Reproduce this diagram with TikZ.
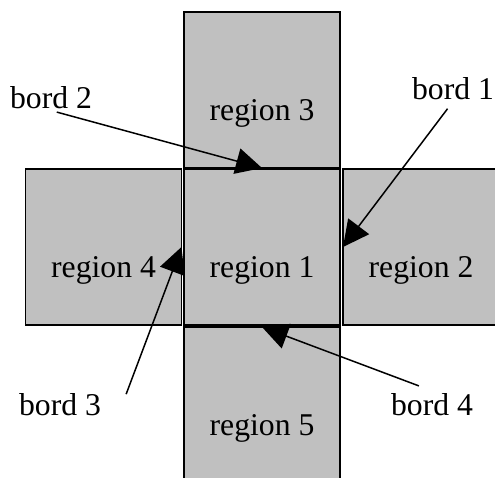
\documentclass[tikz,border=0pt]{standalone}
\usepackage{fontspec}
\setmainfont{Liberation Serif}
\usetikzlibrary{positioning,arrows.meta}
\definecolor{regiongray}{RGB}{192,192,192}
\tikzset{
  region/.style={draw, fill=regiongray, line width=1.2pt, minimum width=156pt, minimum height=156pt, inner sep=0pt, outer sep=0pt},
  rtext/.style={anchor=base, inner sep=0pt, font=\fontsize{31.7pt}{38pt}\selectfont},
  bordlabel/.style={anchor=base, inner sep=2pt, font=\fontsize{31.7pt}{38pt}\selectfont},
  pointer/.style={-{Triangle[length=26pt,width=26pt]}, line width=1.5pt},
}

\begin{document}
\begin{tikzpicture}[x=1pt,y=-1pt]
\useasboundingbox (0,0) rectangle (495,477);
\node[region] (r1) at (262,247) {};
\node[region, above=1pt of r1] (r3) {};
\node[region, left=2.5pt of r1] (r4) {};
\node[region, right=3pt of r1] (r2) {};
\node[region, below=2pt of r1] (r5) {};
\node[rtext] (t1) at ([yshift=-30pt]r1.center) {region 1};
\node[rtext] (t2) at ([yshift=-30pt]r2.center) {region 2};
\node[rtext] (t3) at ([yshift=-30pt]r3.center) {region 3};
\node[rtext] (t4) at ([yshift=-30pt]r4.center) {region 4};
\node[rtext] (t5) at ([yshift=-30pt]r5.center) {region 5};
\node[bordlabel] (b1) at (453,99) {bord 1};
\node[bordlabel] (b2) at (51,108) {bord 2};
\node[bordlabel] (b3) at (60,415) {bord 3};
\node[bordlabel] (b4) at (432,415) {bord 4};
\coordinate (s3) at ([xshift=23pt,yshift=10pt]b3.east);
\draw[pointer, shorten <=9pt] (b1.south) -- (r2.west);
\draw[pointer, shorten <=6pt] (b2.south) -- (r3.south);
\draw[pointer] (s3) -- (r4.east);
\draw[pointer, shorten <=14pt] (b4.north) -- (r5.north);
\end{tikzpicture}
\end{document}
